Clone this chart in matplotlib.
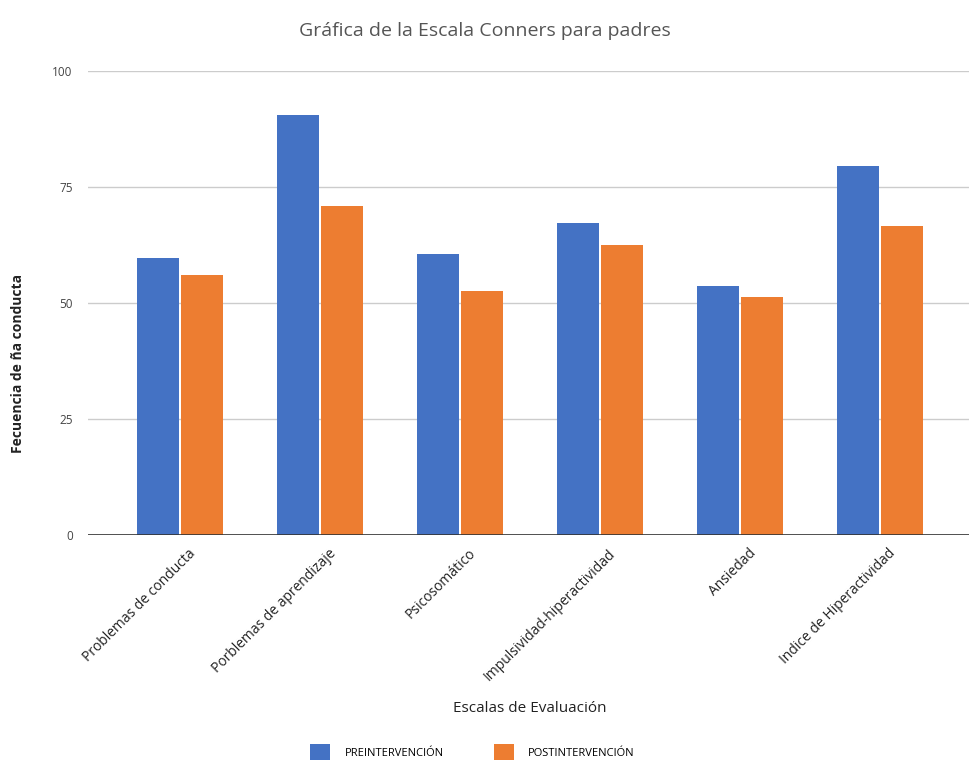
import matplotlib.pyplot as plt
import numpy as np

plt.rcParams['font.family'] = ['Open Sans', 'DejaVu Sans']

categorias = ["Problemas de conducta", "Porblemas de aprendizaje", "Psicosomático",
              "Impulsividad-hiperactividad", "Ansiedad", "Indice de Hiperactividad"]
pre = [59.7, 90.5, 60.5, 67.2, 53.7, 79.6]
post = [56.1, 71.0, 52.6, 62.5, 51.3, 66.5]
series = ["PREINTERVENCIÓN", "POSTINTERVENCIÓN"]
yticks = [0, 25, 50, 75, 100]

azul = "#4472C4"
naranja = "#ED7D31"

fig = plt.figure(figsize=(9.7, 7.65), dpi=100)
ax = fig.add_axes([0.0907, 0.3007, 0.9093, 0.6065])

x = np.arange(len(categorias))
w = 0.3
b1 = ax.bar(x - w / 2 - 0.01, pre, w, color=azul, label=series[0], zorder=3)
b2 = ax.bar(x + w / 2 + 0.01, post, w, color=naranja, label=series[1], zorder=3)

ax.set_xlim(-0.657, 5.643)
ax.set_ylim(0, 100)
ax.set_yticks(yticks)
ax.set_yticklabels([str(t) for t in yticks], fontsize=8.5, color="#444444")
ax.grid(axis='y', color="#cccccc", linewidth=1, zorder=0)
ax.axhline(0, color="#333333", linewidth=1.2, zorder=4)
for s in ax.spines.values():
    s.set_visible(False)
ax.tick_params(axis='both', length=0)
ax.tick_params(axis='y', pad=11)

ax.set_xticks(x + 0.06)
ax.set_xticklabels(categorias, rotation=45, ha='right', rotation_mode='anchor',
                   fontsize=10, color="#222222")
ax.tick_params(axis='x', pad=8)

fig.text(0.5, 0.96, "Gráfica de la Escala Conners para padres", ha='center', va='center',
         fontsize=14, color="#555555")
fig.text(0.019, 0.525, "Fecuencia de ña conducta", rotation=90, ha='center', va='center',
         fontsize=10, color="#222222", fontweight='bold')
fig.text(0.546, 0.074, "Escalas de Evaluación", ha='center', va='center',
         fontsize=11, color="#222222")

fig.legend(handles=[b1, b2], labels=series, loc='center', bbox_to_anchor=(0.487, 0.017),
           ncol=2, frameon=False, fontsize=8, handlelength=1.8, handleheight=1.8,
           columnspacing=4.5, handletextpad=1.3)

fig.savefig("out.png", dpi=100)
